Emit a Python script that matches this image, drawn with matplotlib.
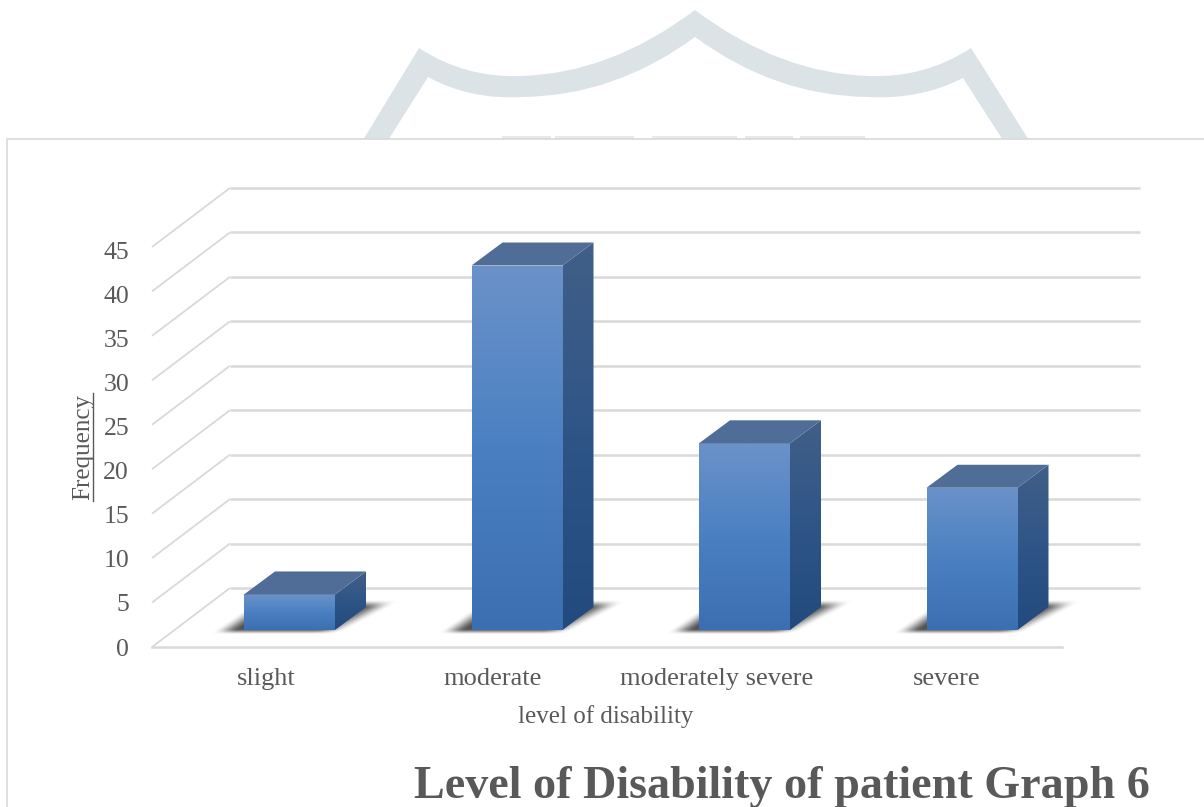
import numpy as np
import matplotlib
matplotlib.use('Agg')
import matplotlib.pyplot as plt
from matplotlib.colors import LinearSegmentedColormap
from matplotlib.patches import Polygon, PathPatch, Rectangle
from matplotlib.path import Path

# values
categories = ['slight', 'moderate', 'moderately severe', 'severe']
frequency = [4, 41, 21, 16]
y_ticks = [0, 5, 10, 15, 20, 25, 30, 35, 40, 45]

W, H = 1204, 807
plt.rcParams['font.family'] = ['Liberation Serif', 'DejaVu Serif']
TEXT = '#595959'
GRID = '#d9d9d9'

fig = plt.figure(figsize=(W / 100, H / 100), dpi=100)

# background layer in pixel coordinates: watermark and chart panel
bg = fig.add_axes([0, 0, 1, 1])
bg.set_xlim(0, W)
bg.set_ylim(H, 0)
bg.axis('off')

MOVE, CURVE, LINE = Path.MOVETO, Path.CURVE3, Path.LINETO
wm_pts = [(360, 145), (419, 48), (465, 78), (520, 76), (610, 74), (695, 10),
          (780, 74), (870, 76), (925, 78), (971, 48), (1032, 145), (1006, 145),
          (963, 78), (920, 100), (868, 97), (775, 96), (695, 37),
          (615, 96), (522, 97), (470, 100), (428, 77), (385, 145), (360, 145)]
wm_codes = [MOVE, LINE, CURVE, CURVE, CURVE, CURVE, CURVE, CURVE, CURVE, CURVE, LINE, LINE,
            LINE, CURVE, CURVE, CURVE, CURVE, CURVE, CURVE, CURVE, CURVE, LINE, LINE]
bg.add_patch(PathPatch(Path(wm_pts, wm_codes), fc='#dce3e6', ec='none'))
for a, b in [(502, 551), (555, 634), (652, 737), (745, 793), (800, 865)]:
    bg.add_patch(Rectangle((a, 136), b - a, 4, fc='#e6eaec', ec='none'))
bg.add_patch(Rectangle((6.5, 138.5), W, H, fc='white', ec=GRID, lw=1.2))

# chart layer: x in category units, y in frequency units
ax = fig.add_axes([0, 0, 1, 1])
ax.patch.set_alpha(0)
ax.axis('off')
x0_px, x_step = 289.5, 227.5
y0_px, y_step = 630.0, 8.89
xlim = (-x0_px / x_step, (W - x0_px) / x_step)
ylim = ((y0_px - H) / y_step, y0_px / y_step)

# 3d offsets, in data units
half_w = 45.5 / x_step
bar_dx, bar_dy = 31 / x_step, 23 / y_step
floor_left = (152 - x0_px) / x_step
floor_right = (1062 - x0_px) / x_step
floor_dx = 78 / x_step
floor_front = -17 / y_step
floor_back = 42 / y_step

for v in y_ticks:
    ax.plot([floor_left, floor_left + floor_dx], [floor_front + v, floor_back + v],
            color=GRID, lw=1.3, zorder=1, solid_capstyle='butt')
    ax.plot([floor_left + floor_dx, floor_right + floor_dx], [floor_back + v, floor_back + v],
            color=GRID, lw=1.8, zorder=1, solid_capstyle='butt')
    # the labels sit a little tighter than the grid
    ax.text(floor_left - 23 / x_step, floor_front + v * 0.992, str(v), ha='right', va='center_baseline',
            fontsize=18.5, color=TEXT)
ax.plot([floor_left, floor_right], [floor_front, floor_front], color=GRID, lw=1.8, zorder=1)

front_cmap = LinearSegmentedColormap.from_list('front', ['#6b92c9', '#4a80c2', '#3b6fb2'])
side_cmap = LinearSegmentedColormap.from_list('side', ['#415f88', '#2f5587', '#234a7e'])
ramp = np.linspace(0, 1, 128).reshape(-1, 1)


def smooth(t):
    t = np.clip(t, 0, 1)
    return t * t * (3 - 2 * t)


def shaded(poly_pts, cmap, extent, z):
    im = ax.imshow(ramp, cmap=cmap, extent=extent, aspect='auto', origin='upper', zorder=z)
    patch = Polygon(poly_pts, closed=True, transform=ax.transData, fc='none', ec='none')
    ax.add_patch(patch)
    im.set_clip_path(patch)


def floor_shadow(i):
    # blurred parallelogram under one bar, worked out in pixel offsets from the bar centre
    px = np.arange(-95, 130)
    py = np.arange(-8, 36)
    xx, yy = np.meshgrid(px, py)
    d = yy / 28
    left = -76 + 40 * d
    right = 58 + 52 * d
    a = smooth((xx - left) / 26) * smooth((right - xx) / 30) * smooth((yy + 5) / 6) * smooth((31 - yy) / 9)
    rgba = np.zeros(a.shape + (4,))
    rgba[..., :3] = 0.2
    rgba[..., 3] = a * 0.85
    ax.imshow(rgba, extent=(i + px[0] / x_step, i + px[-1] / x_step, py[0] / y_step, py[-1] / y_step),
              origin='lower', aspect='auto', zorder=2)


for i, val in enumerate(frequency):
    l, r = i - half_w, i + half_w
    floor_shadow(i)
    # front face
    shaded([(l, 0), (r, 0), (r, val), (l, val)], front_cmap, (l, r, 0, val), 3)
    # side face
    shaded([(r, 0), (r + bar_dx, bar_dy), (r + bar_dx, val + bar_dy), (r, val)],
           side_cmap, (r, r + bar_dx, 0, val + bar_dy), 3)
    # top face
    ax.add_patch(Polygon([(l, val), (r, val), (r + bar_dx, val + bar_dy), (l + bar_dx, val + bar_dy)],
                         fc='#4f6d96', ec='none', zorder=3))

ax.set_xlim(*xlim)
ax.set_ylim(*ylim)

label_x = [266, 493, 717, 947]
for name, px_pos in zip(categories, label_x):
    ax.text((px_pos - x0_px) / x_step, (y0_px - 679) / y_step, name, ha='center', va='center',
            fontsize=19, color=TEXT)

fig.text(606 / W, 1 - 717 / H, 'level of disability', ha='center', va='center', fontsize=18, color=TEXT)
fig.text(83 / W, 1 - 447 / H, 'Frequency', rotation=90, ha='center', va='center', fontsize=18, color=TEXT)
fig.add_artist(plt.Line2D([93 / W, 93 / W], [1 - 501 / H, 1 - 393 / H], color=TEXT, lw=1))
fig.text(782 / W, 1 - 787 / H, 'Level of Disability of patient Graph 6', ha='center', va='center',
         fontsize=33.2, fontweight='bold', color=TEXT)

fig.savefig('out.png', dpi=100)
